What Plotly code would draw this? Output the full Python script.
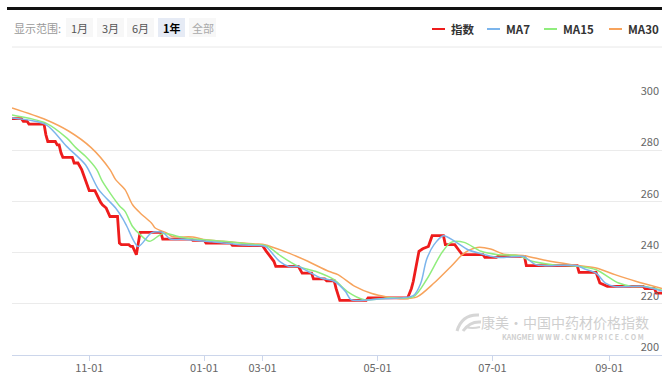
import plotly.graph_objects as go

# 指数 (daily index, points at the corners of the steps)
idx_dates = [
    "2020-09-21", "2020-09-26", "2020-09-27", "2020-09-29", "2020-09-30", "2020-10-08",
    "2020-10-09", "2020-10-10", "2020-10-14", "2020-10-15", "2020-10-16", "2020-10-17",
    "2020-10-18", "2020-10-23", "2020-10-24", "2020-10-26", "2020-10-28", "2020-10-29",
    "2020-10-31", "2020-11-01", "2020-11-04", "2020-11-05", "2020-11-07", "2020-11-08",
    "2020-11-10", "2020-11-12", "2020-11-16", "2020-11-17", "2020-11-18", "2020-11-22",
    "2020-11-23", "2020-11-24", "2020-11-26", "2020-11-28", "2020-12-09", "2020-12-10",
    "2020-12-25", "2020-12-26", "2021-01-01", "2021-01-02", "2021-01-15", "2021-01-16",
    "2021-01-28", "2021-02-26", "2021-03-01", "2021-03-03", "2021-03-05", "2021-03-07",
    "2021-03-08", "2021-03-20", "2021-03-22", "2021-03-27", "2021-03-28", "2021-04-03",
    "2021-04-04", "2021-04-08", "2021-04-09", "2021-04-10", "2021-04-11", "2021-04-25",
    "2021-04-26", "2021-05-17", "2021-05-18", "2021-05-19", "2021-05-20", "2021-05-22",
    "2021-05-23", "2021-05-25", "2021-05-28", "2021-05-30", "2021-06-05", "2021-06-06",
    "2021-06-11", "2021-06-13", "2021-06-15", "2021-06-26", "2021-06-27", "2021-07-03",
    "2021-07-04", "2021-07-18", "2021-07-19", "2021-08-15", "2021-08-16", "2021-08-25",
    "2021-08-27", "2021-08-31", "2021-09-19", "2021-09-20", "2021-09-25", "2021-09-26",
    "2021-09-29",
]
idx_vals = [
    292.3, 292.3, 291.3, 291.3, 290.2, 290.2,
    286.0, 283.4, 283.4, 282.1, 282.1, 279.0,
    277.2, 277.2, 275.0, 275.0, 272.4, 270.4,
    266.5, 264.2, 264.2, 262.6, 259.7, 258.7,
    257.4, 254.1, 254.1, 243.7, 243.1, 243.1,
    242.4, 242.4, 239.2, 247.9, 247.9, 245.3,
    245.3, 244.8, 244.8, 243.7, 243.7, 242.8,
    242.8, 242.7, 242.7, 240.5, 238.5, 236.6,
    234.6, 234.6, 232.0, 232.0, 229.7, 229.7,
    229.0, 229.0, 226.0, 223.5, 221.3, 221.3,
    222.3, 222.3, 224.2, 226.0, 228.8, 236.0,
    240.5, 241.5, 242.4, 246.6, 246.6, 243.1,
    243.1, 241.1, 239.2, 239.2, 238.1, 238.1,
    238.5, 238.5, 234.9, 234.9, 232.3, 232.3,
    228.1, 226.8, 226.8, 225.9, 225.9, 224.2,
    224.2,
]

ma7_dates = [
    "2020-09-21", "2020-10-09", "2020-10-20", "2020-10-30", "2020-11-06", "2020-11-15",
    "2020-11-19", "2020-11-21", "2020-11-27", "2020-12-04", "2020-12-10", "2020-12-14",
    "2020-12-20", "2021-01-05", "2021-01-20", "2021-01-28", "2021-03-01", "2021-03-03",
    "2021-03-10", "2021-03-15", "2021-03-20", "2021-03-25", "2021-04-01", "2021-04-08",
    "2021-04-14", "2021-04-17", "2021-05-03", "2021-05-20", "2021-05-24", "2021-05-27",
    "2021-05-31", "2021-06-05", "2021-06-11", "2021-06-18", "2021-06-27", "2021-07-04",
    "2021-07-18", "2021-07-19", "2021-07-24", "2021-07-29", "2021-08-15", "2021-08-19",
    "2021-08-25", "2021-08-30", "2021-09-04", "2021-09-19", "2021-09-29",
]
ma7_vals = [
    292.6, 290.0, 281.5, 274.3, 264.6, 257.4,
    253.0, 250.2, 242.4, 247.7, 247.9, 245.3,
    245.2, 244.2, 243.1, 242.8, 242.7, 242.2,
    236.6, 234.6, 234.6, 232.7, 230.1, 228.8,
    224.8, 221.6, 222.0, 223.2, 228.1, 237.2,
    243.1, 246.6, 244.4, 241.1, 239.2, 238.1,
    238.5, 237.9, 235.3, 234.9, 234.9, 233.6,
    232.0, 228.1, 226.8, 226.8, 225.0,
]

ma15_dates = [
    "2020-09-21", "2020-10-09", "2020-10-20", "2020-10-25", "2020-10-30", "2020-11-05",
    "2020-11-08", "2020-11-17", "2020-11-20", "2020-11-24", "2020-11-28", "2020-12-03",
    "2020-12-10", "2020-12-22", "2021-01-11", "2021-01-28", "2021-03-01", "2021-03-04",
    "2021-03-11", "2021-03-20", "2021-03-29", "2021-04-08", "2021-04-15", "2021-04-24",
    "2021-05-07", "2021-05-20", "2021-05-27", "2021-06-04", "2021-06-09", "2021-06-16",
    "2021-06-25", "2021-07-04", "2021-07-15", "2021-07-22", "2021-08-02", "2021-08-16",
    "2021-08-25", "2021-09-06", "2021-09-13", "2021-09-20", "2021-09-29",
]
ma15_vals = [
    293.8, 290.6, 284.8, 280.9, 277.6, 272.4,
    267.8, 258.3, 256.1, 250.2, 247.0, 244.4,
    247.4, 245.7, 244.4, 243.1, 243.0, 242.4,
    238.5, 234.6, 232.7, 229.4, 224.8, 221.6,
    222.3, 222.7, 229.4, 239.8, 244.0, 244.0,
    240.5, 239.2, 238.8, 236.6, 235.3, 234.6,
    233.3, 228.1, 226.8, 226.8, 225.3,
]

ma30_dates = [
    "2020-09-21", "2020-10-09", "2020-10-21", "2020-11-02", "2020-11-12", "2020-11-15",
    "2020-11-20", "2020-11-24", "2020-11-28", "2020-12-04", "2020-12-06", "2020-12-12",
    "2020-12-15", "2020-12-26", "2021-01-02", "2021-01-16", "2021-01-28", "2021-03-01",
    "2021-03-04", "2021-03-15", "2021-03-25", "2021-04-05", "2021-04-10", "2021-04-19",
    "2021-04-28", "2021-05-06", "2021-05-15", "2021-05-22", "2021-05-31", "2021-06-09",
    "2021-06-16", "2021-06-23", "2021-06-30", "2021-07-07", "2021-07-18", "2021-07-29",
    "2021-08-12", "2021-08-25", "2021-09-04", "2021-09-15", "2021-09-29",
]
ma30_vals = [
    296.5, 291.9, 287.5, 281.0, 272.4, 268.5,
    264.6, 258.7, 255.5, 251.6, 249.6, 247.7,
    246.3, 246.1, 245.0, 244.1, 243.4, 243.3,
    242.7, 239.8, 236.6, 232.7, 231.4, 226.8,
    224.0, 222.7, 222.0, 222.7, 228.1, 234.6,
    239.8, 242.0, 241.4, 239.4, 238.8, 237.0,
    235.3, 234.0, 231.4, 228.8, 226.0,
]

series_names = ["指数", "MA7", "MA15", "MA30"]
series_colors = ["#ee1c1c", "#7cb5ec", "#90ed7d", "#f7a35c"]

y_ticks = [200, 220, 240, 260, 280, 300]
x_tick_dates = ["2020-11-01", "2021-01-01", "2021-03-01", "2021-05-01", "2021-07-01", "2021-09-01"]
range_buttons = ["1月", "3月", "6月", "1年", "全部"]

FONT = "Noto Sans CJK SC, Microsoft YaHei, sans-serif"
W, H = 662, 383
L, R, T, B = 12, 0, 99, 28
PW, PH = W - L - R, H - T - B


def px(x):
    return (x - L) / PW


def py(y):
    return (H - B - y) / PH


fig = go.Figure()
all_x = [idx_dates, ma7_dates, ma15_dates, ma30_dates]
all_y = [idx_vals, ma7_vals, ma15_vals, ma30_vals]
widths = [2.8, 1.5, 1.5, 1.5]
# index underneath, moving averages on top
order = [0, 3, 2, 1]
for i in order:
    fig.add_trace(go.Scatter(
        x=all_x[i], y=all_y[i], name=series_names[i], mode="lines",
        line=dict(color=series_colors[i], width=widths[i],
                  shape="linear" if i == 0 else "spline", smoothing=0.8),
        hoverinfo="skip",
    ))

shapes = []
annotations = []

# top black bar and separator
shapes.append(dict(type="rect", xref="paper", yref="paper", x0=px(7), x1=px(662), y0=py(10), y1=py(7),
                   fillcolor="#111111", line=dict(width=0)))
shapes.append(dict(type="line", xref="paper", yref="paper", x0=px(12), x1=px(662), y0=py(47), y1=py(47),
                   line=dict(color="#e8e8e8", width=1)))

# range selector
annotations.append(dict(xref="paper", yref="paper", x=px(12), y=py(27.5), xanchor="left", yanchor="middle",
                        text="显示范围:", showarrow=False, font=dict(size=11, color="#999999", family=FONT)))
btn_left = [66, 97, 127, 158, 189]
for i, lab in enumerate(range_buttons):
    sel = lab == "1年"
    shapes.append(dict(type="rect", xref="paper", yref="paper", x0=px(btn_left[i]), x1=px(btn_left[i] + 27),
                       y0=py(37), y1=py(18), fillcolor="#e6ebf5" if sel else "#f7f7f7", line=dict(width=0)))
    annotations.append(dict(xref="paper", yref="paper", x=px(btn_left[i] + 13.5), y=py(27.5),
                            xanchor="center", yanchor="middle", showarrow=False,
                            text=f"<b>{lab}</b>" if sel else lab,
                            font=dict(size=11, color="#000000" if sel else ("#aaaaaa" if lab == "全部" else "#555555"),
                                      family=FONT)))

# legend
leg_sym = [432, 487, 544, 609]
for i, name in enumerate(series_names):
    shapes.append(dict(type="line", xref="paper", yref="paper", x0=px(leg_sym[i]), x1=px(leg_sym[i] + 13),
                       y0=py(29), y1=py(29), line=dict(color=series_colors[i], width=2)))
    annotations.append(dict(xref="paper", yref="paper", x=px(leg_sym[i] + 17), y=py(28.5),
                            xanchor="left", yanchor="middle", showarrow=False, text=f"<b>{name}</b>",
                            font=dict(size=11.5, color="#333333", family=FONT)))

# watermark: swoosh logo + text
def logo_path(pts):
    (x0, y0), (cx, cy), (x1, y1) = pts
    return f"M{px(x0)},{py(y0)} Q{px(cx)},{py(cy)} {px(x1)},{py(y1)}"


for pts, w in [(((457, 331), (462, 314), (479, 315)), 3),
               (((463, 331), (470, 321), (481, 322)), 3),
               (((466, 327), (472, 329), (480, 327)), 2)]:
    shapes.append(dict(type="path", xref="paper", yref="paper", path=logo_path(pts),
                       line=dict(color="#d6d6d6", width=w)))
annotations.append(dict(xref="paper", yref="paper", x=px(651), y=py(322), xanchor="right", yanchor="middle",
                        showarrow=False, text="康美·中国中药材价格指数",
                        font=dict(size=14, color="#cfcfcf", family=FONT)))
annotations.append(dict(xref="paper", yref="paper", x=px(646), y=py(337), xanchor="right", yanchor="middle",
                        showarrow=False, text="<b>KANGMEI  W W W . C N K M P R I C E . C O M</b>",
                        font=dict(size=7, color="#cfcfcf", family=FONT)))

fig.update_layout(
    width=W, height=H,
    margin=dict(l=L, r=R, t=T, b=B),
    paper_bgcolor="white", plot_bgcolor="white",
    showlegend=False,
    shapes=shapes, annotations=annotations,
    font=dict(family=FONT, size=11, color="#666666"),
    xaxis=dict(
        type="date",
        range=["2020-09-21", "2021-09-29"],
        rangebreaks=[dict(bounds=["2021-01-29", "2021-02-26"])],
        tickvals=x_tick_dates, tickformat="%m-%d",
        showgrid=False, zeroline=False,
        showline=True, linecolor="#ccd6eb", linewidth=1,
        ticks="outside", ticklen=5, tickcolor="#ccd6eb",
        ticklabelstandoff=-2,
        tickfont=dict(size=11, color="#666666", family=FONT),
    ),
    yaxis=dict(
        side="right", range=[200, 300], tickvals=y_ticks,
        ticklabelposition="inside top", ticklabeloverflow="allow",
        showgrid=True, gridcolor="#ebebeb", gridwidth=1, zeroline=False,
        tickfont=dict(size=11, color="#666666", family=FONT),
    ),
)

# page body has a default 8px margin; drop it so the figure fills the window
fig.write_html("out.html", config={"displayModeBar": False},
               post_script="document.body.style.margin='0';")
